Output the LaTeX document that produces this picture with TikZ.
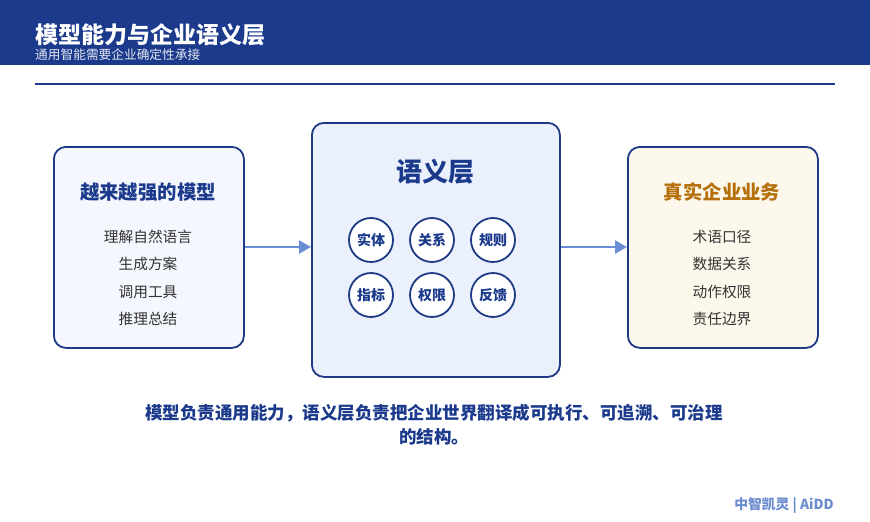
\documentclass[tikz,border=0pt]{standalone}
\usepackage{fontspec}
\setmainfont{Noto Sans CJK SC}
\usetikzlibrary{arrows.meta}
\definecolor{navy}{HTML}{1B3A8C}
\definecolor{boxline}{HTML}{1F3A85}
\definecolor{leftfill}{HTML}{F4F7FE}
\definecolor{midfill}{HTML}{EAF1FD}
\definecolor{rightfill}{HTML}{FDF8EC}
\definecolor{arrowc}{HTML}{6A8ED6}
\definecolor{gold}{HTML}{B5700A}
\definecolor{itemc}{HTML}{333333}
\definecolor{footc}{HTML}{6C8CD0}
\begin{document}
\begin{tikzpicture}[x=1pt,y=-1pt,
  panel/.style={draw=boxline, line width=1.8pt, rounded corners=12pt},
  ptitle/.style={font=\fontsize{19.4}{21}\selectfont\bfseries, text=navy},
  item/.style={font=\fontsize{14.7}{16}\selectfont, text=itemc},
  chip/.style={circle, draw=boxline, line width=1.8pt, fill=white, minimum size=44pt, inner sep=0pt, font=\fontsize{14}{15}\selectfont\bfseries, text=navy},
  flow/.style={draw=arrowc, line width=2.5pt, -{Triangle[length=12pt,width=13pt]}}
]
\useasboundingbox (0,0) rectangle (870,522);
\fill[white] (0,0) rectangle (870,522);
% header
\fill[navy] (0,0) rectangle (870,65);
\node[anchor=base west, inner sep=0pt, text=white, font=\fontsize{23}{25}\selectfont\bfseries] (title) at (35,43) {模型能力与企业语义层};
\node[anchor=base west, inner sep=0pt, text=white!88!navy, font=\fontsize{12.7}{14}\selectfont] (subtitle) at (35,59) {通用智能需要企业确定性承接};
\draw[navy, line width=1.5pt] (35,84) -- (835,84);
% left panel
\node[panel, fill=leftfill, minimum width=190pt, minimum height=201pt, anchor=north west] (left) at (53,146) {};
\node[ptitle] (lt) at (148,192) {越来越强的模型};
\node[item] (l1) at (148,237) {理解自然语言};
\node[item] (l2) at (148,264) {生成方案};
\node[item] (l3) at (148,292) {调用工具};
\node[item] (l4) at (148,319) {推理总结};
% middle panel
\node[panel, fill=midfill, minimum width=248pt, minimum height=254pt, anchor=north west] (mid) at (311,122) {};
\node[font=\fontsize{26}{28}\selectfont\bfseries, text=navy] (mt) at (435,172) {语义层};
\node[chip] (c1) at (371,240) {实体};
\node[chip] (c2) at (432,240) {关系};
\node[chip] (c3) at (493,240) {规则};
\node[chip] (c4) at (371,295) {指标};
\node[chip] (c5) at (432,295) {权限};
\node[chip] (c6) at (493,295) {反馈};
% right panel
\node[panel, fill=rightfill, minimum width=190pt, minimum height=201pt, anchor=north west] (right) at (627,146) {};
\node[ptitle, text=gold] (rt) at (722,192) {真实企业业务};
\node[item] (r1) at (722,237) {术语口径};
\node[item] (r2) at (722,264) {数据关系};
\node[item] (r3) at (722,292) {动作权限};
\node[item] (r4) at (722,319) {责任边界};
% arrows
\draw[flow] (left.east |- 0,247) -- (mid.west |- 0,247);
\draw[flow] (mid.east |- 0,247) -- (right.west |- 0,247);
% bottom text
\node[align=center, text=navy, font=\fontsize{17.5}{24}\selectfont\bfseries] (msg) at (434,425) {模型负责通用能力，语义层负责把企业世界翻译成可执行、可追溯、可治理\\的结构。};
\node[text=footc, font=\fontsize{13.8}{15}\selectfont\bfseries] (foot) at (784,506) {中智凯灵 | AiDD};
\end{tikzpicture}
\end{document}
